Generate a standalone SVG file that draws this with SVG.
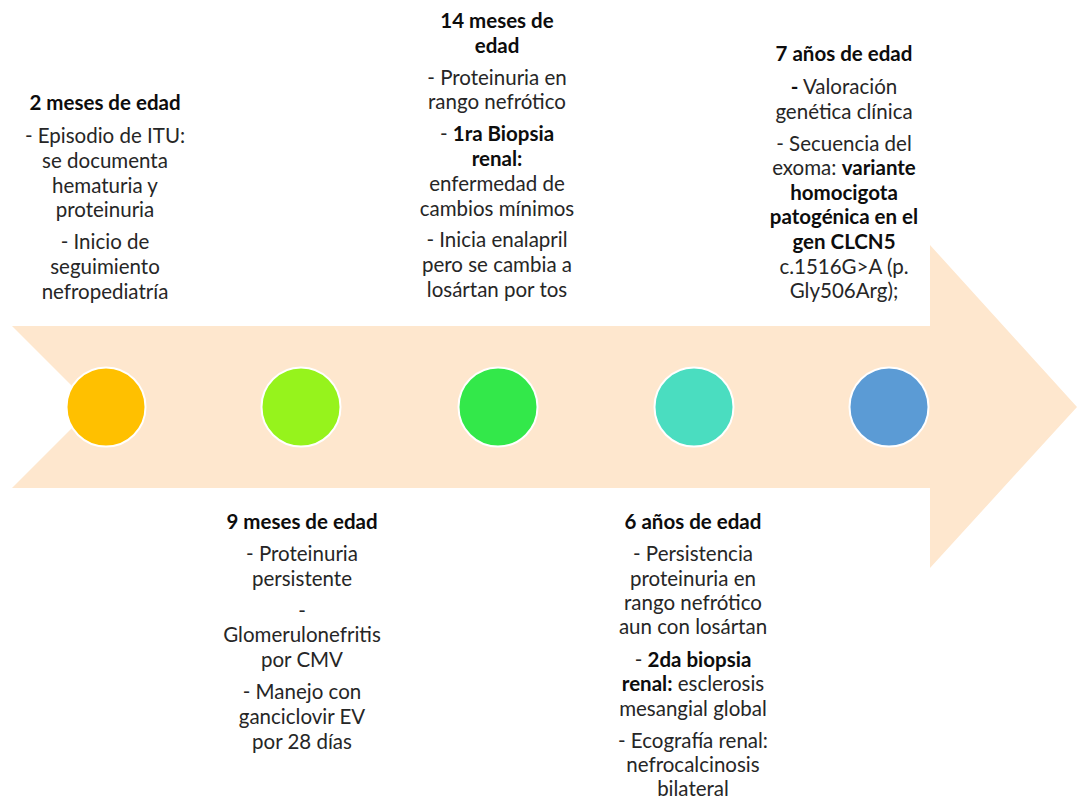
<svg xmlns="http://www.w3.org/2000/svg" width="1077" height="800" viewBox="0 0 1077 800">
<style>
text{font-family:Lato,"Liberation Sans",sans-serif;font-size:20.5px;fill:#262626;text-anchor:middle}
.b{font-weight:bold;fill:#0d0d0d}
.dot{stroke:#ffffff;stroke-width:2}
</style>
<rect width="1077" height="800" fill="#ffffff"/>
<g id="arrow">
<polygon points="12,326 930,326 930,245 1077,407 930,568 930,488 12,488 93,407" fill="#FEE7CE"/>
</g>
<g id="connectors"></g>
<g id="dot1"><circle class="dot" cx="106" cy="407" r="39.5" fill="#FFC000"/></g>
<g id="dot2"><circle class="dot" cx="301" cy="407" r="39.5" fill="#96F31C"/></g>
<g id="dot3"><circle class="dot" cx="498" cy="407" r="39.5" fill="#33E84A"/></g>
<g id="dot4"><circle class="dot" cx="694" cy="407" r="39.5" fill="#4ADDC0"/></g>
<g id="dot5"><circle class="dot" cx="889" cy="407" r="39.5" fill="#5B9BD5"/></g>
<g id="label1">
<text x="105" y="110" class="b">2 meses de edad</text>
<text x="105" y="143">- Episodio de ITU:</text>
<text x="105" y="168">se documenta</text>
<text x="105" y="193">hematuria y</text>
<text x="105" y="217">proteinuria</text>
<text x="105" y="249">- Inicio de</text>
<text x="105" y="274">seguimiento</text>
<text x="105" y="299">nefropediatría</text>
</g>
<g id="label2">
<text x="302" y="529" class="b">9 meses de edad</text>
<text x="302" y="561">- Proteinuria</text>
<text x="302" y="586">persistente</text>
<text x="302" y="618">-</text>
<text x="302" y="642">Glomerulonefritis</text>
<text x="302" y="667">por CMV</text>
<text x="302" y="699">- Manejo con</text>
<text x="302" y="724">ganciclovir EV</text>
<text x="302" y="749">por 28 días</text>
</g>
<g id="label3">
<text x="497" y="28" class="b">14 meses de</text>
<text x="497" y="53" class="b">edad</text>
<text x="497" y="85">- Proteinuria en</text>
<text x="497" y="109">rango nefrótico</text>
<text x="497" y="141">- <tspan class="b">1ra Biopsia</tspan></text>
<text x="497" y="166" class="b">renal:</text>
<text x="497" y="191">enfermedad de</text>
<text x="497" y="216">cambios mínimos</text>
<text x="497" y="247">- Inicia enalapril</text>
<text x="497" y="272">pero se cambia a</text>
<text x="497" y="297">losártan por tos</text>
</g>
<g id="label4">
<text x="693" y="529" class="b">6 años de edad</text>
<text x="693" y="561">- Persistencia</text>
<text x="693" y="586">proteinuria en</text>
<text x="693" y="610">rango nefrótico</text>
<text x="693" y="634">aun con losártan</text>
<text x="693" y="667">- <tspan class="b">2da biopsia</tspan></text>
<text x="693" y="691"><tspan class="b">renal:</tspan> esclerosis</text>
<text x="693" y="716">mesangial global</text>
<text x="693" y="748">- Ecografía renal:</text>
<text x="693" y="772">nefrocalcinosis</text>
<text x="693" y="796">bilateral</text>
</g>
<g id="label5">
<text x="844" y="61" class="b">7 años de edad</text>
<text x="844" y="94"><tspan class="b">-</tspan> Valoración</text>
<text x="844" y="119">genética clínica</text>
<text x="844" y="151">- Secuencia del</text>
<text x="844" y="175">exoma: <tspan class="b">variante</tspan></text>
<text x="844" y="200" class="b">homocigota</text>
<text x="844" y="224" class="b">patogénica en el</text>
<text x="844" y="249" class="b">gen CLCN5</text>
<text x="844" y="274">c.1516G&gt;A (p.</text>
<text x="844" y="298">Gly506Arg);</text>
</g>
</svg>
